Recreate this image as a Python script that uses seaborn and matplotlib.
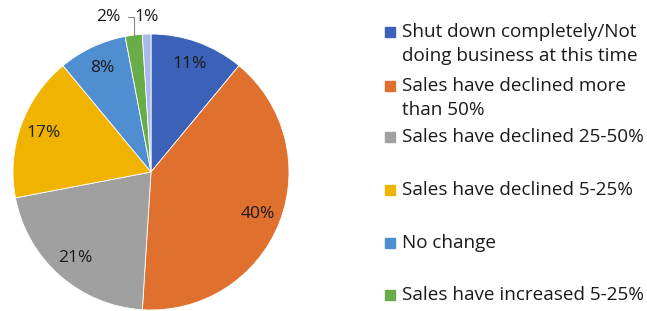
import numpy as np
import seaborn as sns
import matplotlib
matplotlib.use("Agg")
import matplotlib.pyplot as plt
from matplotlib.patches import Rectangle

# data
categories = [
    "Shut down completely/Not\ndoing business at this time",
    "Sales have declined more\nthan 50%",
    "Sales have declined 25-50%",
    "Sales have declined 5-25%",
    "No change",
    "Sales have increased 5-25%",
    "Sales have increased more than 25%",
]
shares = [11, 40, 21, 17, 8, 2, 1]
colors = ["#3B62B8", "#E0702E", "#A0A0A0", "#F0B400", "#4F8ED0", "#69AC4A", "#A9B9E8"]

# legend rows visible in the image (px from top, first line centre)
legend_y = [32, 86, 137, 190, 243, 295]

sns.set_theme(style="white")
plt.rcParams["font.family"] = ["Open Sans", "DejaVu Sans"]

W, H = 647, 311
fig = plt.figure(figsize=(W / 100, H / 100), dpi=100)
cx, cy, r = 151, 172, 138
ax = fig.add_axes([(cx - r) / W, (H - cy - r) / H, 2 * r / W, 2 * r / H])

wedges, texts, autotexts = ax.pie(
    shares, colors=colors, startangle=90, counterclock=False,
    autopct="%d%%", pctdistance=0.83, radius=1,
    wedgeprops=dict(linewidth=0.6, edgecolor="white"),
    textprops=dict(fontsize=12.5, color="#1a1a1a"),
)
ax.set_xlim(-1, 1)
ax.set_ylim(-1, 1)
ax.set_aspect("equal")

# small slices: labels above the pie
for i, lx in [(5, -0.31), (6, -0.03)]:
    w = wedges[i]
    mid = np.deg2rad((w.theta1 + w.theta2) / 2)
    autotexts[i].set_visible(False)
    if i == 5:
        ax.annotate(f"{shares[i]}%", xy=(np.cos(mid), np.sin(mid)), xytext=(lx, 1.12),
                    fontsize=12.5, color="#1a1a1a", ha="center", va="center",
                    arrowprops=dict(arrowstyle="-", color="#888888", lw=0.8,
                                    connectionstyle="angle,angleA=0,angleB=90,rad=0",
                                    shrinkA=3, shrinkB=0),
                    annotation_clip=False)
    else:
        ax.text(lx, 1.12, f"{shares[i]}%", fontsize=12.5, color="#1a1a1a",
                ha="center", va="center")

# legend on the right
for lab, col, y in zip(categories, colors, legend_y):
    fig.patches.append(Rectangle((385 / W, 1 - (y + 5) / H), 10 / W, 10 / H,
                                 transform=fig.transFigure, color=col))
    fig.text(402 / W, 1 - (y - 9) / H, lab, fontsize=13.6, color="#1a1a1a",
             va="top", ha="left", linespacing=1.45)

fig.savefig("out.png", dpi=100)
